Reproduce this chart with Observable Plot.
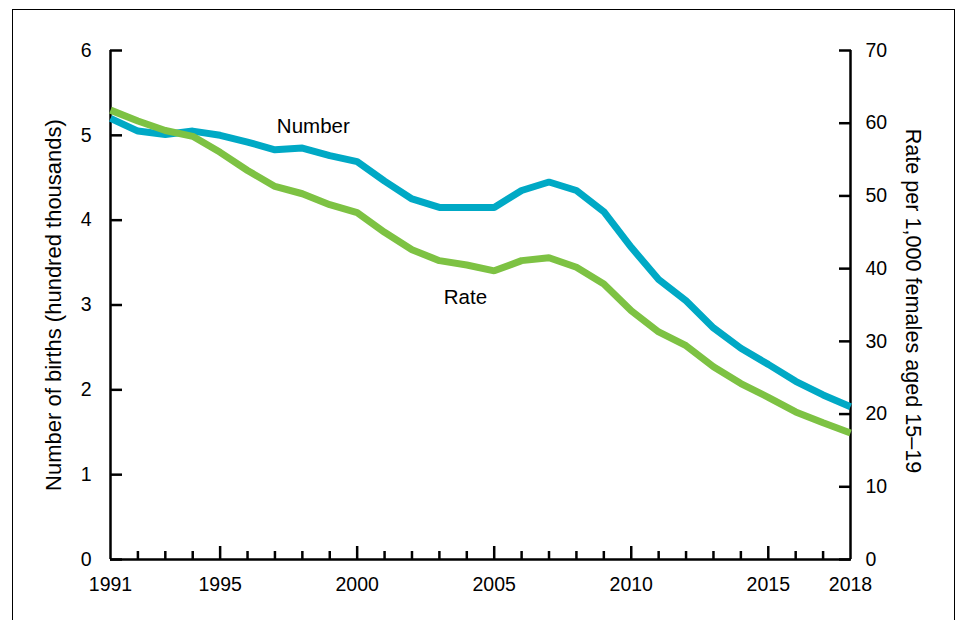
<!DOCTYPE html>
<html><head><meta charset="utf-8">
<script src="https://cdn.jsdelivr.net/npm/d3@7"></script>
<script src="https://cdn.jsdelivr.net/npm/@observablehq/plot@0.6"></script>
<style>
body{margin:0;background:#fff;}
#wrap{position:relative;width:959px;height:620px;overflow:hidden;}
#frame{position:absolute;left:12px;top:9px;width:943px;height:660px;border:1.5px solid #000;box-sizing:border-box;pointer-events:none;}
svg{display:block;}
</style></head><body><div id="wrap"><div id="frame"></div></div>
<script>
const years = [1991,1992,1993,1994,1995,1996,1997,1998,1999,2000,2001,2002,2003,2004,2005,2006,2007,2008,2009,2010,2011,2012,2013,2014,2015,2016,2017,2018];
const births = [5.20,5.05,5.01,5.05,5.00,4.92,4.83,4.85,4.76,4.69,4.46,4.25,4.15,4.15,4.15,4.35,4.45,4.35,4.10,3.68,3.30,3.05,2.73,2.49,2.30,2.10,1.94,1.80];
const rates = [61.8,60.3,59.0,58.2,56.0,53.5,51.3,50.3,48.8,47.7,45.0,42.6,41.1,40.5,39.7,41.1,41.5,40.2,37.9,34.2,31.3,29.4,26.5,24.2,22.3,20.3,18.8,17.4];
const leftTicks = [0,1,2,3,4,5,6];
const rightTicks = [0,10,20,30,40,50,60,70];
const xLabelTicks = [1991,1995,2000,2005,2010,2015,2018];
const majorTicks = [1995,2000,2005,2010,2015];
const minorTicks = years.filter(y => y > 1991 && y < 2018 && !majorTicks.includes(y));
const leftTitle = "Number of births (hundred thousands)";
const rightTitle = "Rate per 1,000 females aged 15\u201319";
const annotations = [{year: 1998.4, value: 5.1, text: "Number"}, {year: 2003.95, value: 3.09, text: "Rate"}];

const K = 6 / 70; // rate axis (0–70) mapped onto births axis (0–6)
const data = years.map((y, i) => ({year: y, births: births[i], rate: rates[i]}));
const font = "Arial, 'Liberation Sans', Helvetica, sans-serif";
const fs = 19.5;

const chart = Plot.plot({
  width: 959, height: 620,
  marginLeft: 110, marginRight: 109, marginTop: 50, marginBottom: 61,
  style: {fontFamily: font, fontSize: fs + "px", color: "#000", background: "transparent", overflow: "visible"},
  x: {domain: [1991, 2018], label: null},
  y: {domain: [0, 6], label: null},
  marks: [
    // x axis ticks and labels
    Plot.axisX(minorTicks, {tickSize: -8, tickFormat: () => "", strokeWidth: 2.5, label: null}),
    Plot.axisX(majorTicks, {tickSize: -13, tickFormat: () => "", strokeWidth: 2.5, label: null}),
    Plot.axisX(xLabelTicks, {tickSize: 0, tickPadding: 18, tickFormat: d => String(d), fontSize: fs, label: null}),
    // left axis
    Plot.axisY(leftTicks, {anchor: "left", tickSize: -12, tickFormat: () => "", strokeWidth: 2.5, label: null}),
    Plot.axisY(leftTicks, {anchor: "left", tickSize: 0, tickPadding: 19, tickFormat: d => String(d), fontSize: fs, label: null}),
    // right axis
    Plot.axisY(rightTicks.map(v => v * K), {anchor: "right", tickSize: -12, tickFormat: () => "", strokeWidth: 2.5, label: null}),
    Plot.axisY(rightTicks.map(v => v * K), {anchor: "right", tickSize: 0, tickPadding: 15, tickFormat: d => String(Math.round(d / K)), fontSize: fs, label: null}),
    // axis lines
    Plot.ruleY([0], {stroke: "#000", strokeWidth: 2.5}),
    Plot.ruleX([1991, 2018], {stroke: "#000", strokeWidth: 2.5}),
    // titles
    Plot.text([leftTitle], {frameAnchor: "left", textAnchor: "middle", lineAnchor: "middle", text: d => d, rotate: -90, dx: -57, fontSize: 22, fill: "#000"}),
    Plot.text([rightTitle], {frameAnchor: "right", textAnchor: "middle", lineAnchor: "middle", text: d => d, rotate: 90, dx: 62, dy: -4, fontSize: 21.6, fill: "#000"}),
    // series
    Plot.line(data, {x: "year", y: "births", stroke: "#00a9c5", strokeWidth: 7, strokeLinecap: "butt", strokeLinejoin: "miter"}),
    Plot.line(data, {x: "year", y: d => d.rate * K, stroke: "#7dc243", strokeWidth: 7, strokeLinecap: "butt", strokeLinejoin: "miter"}),
    // labels
    Plot.text(annotations, {x: "year", y: "value", text: "text", fontSize: 20.5, fill: "#000"})
  ]
});
document.getElementById("wrap").prepend(chart);
</script>
</body></html>
